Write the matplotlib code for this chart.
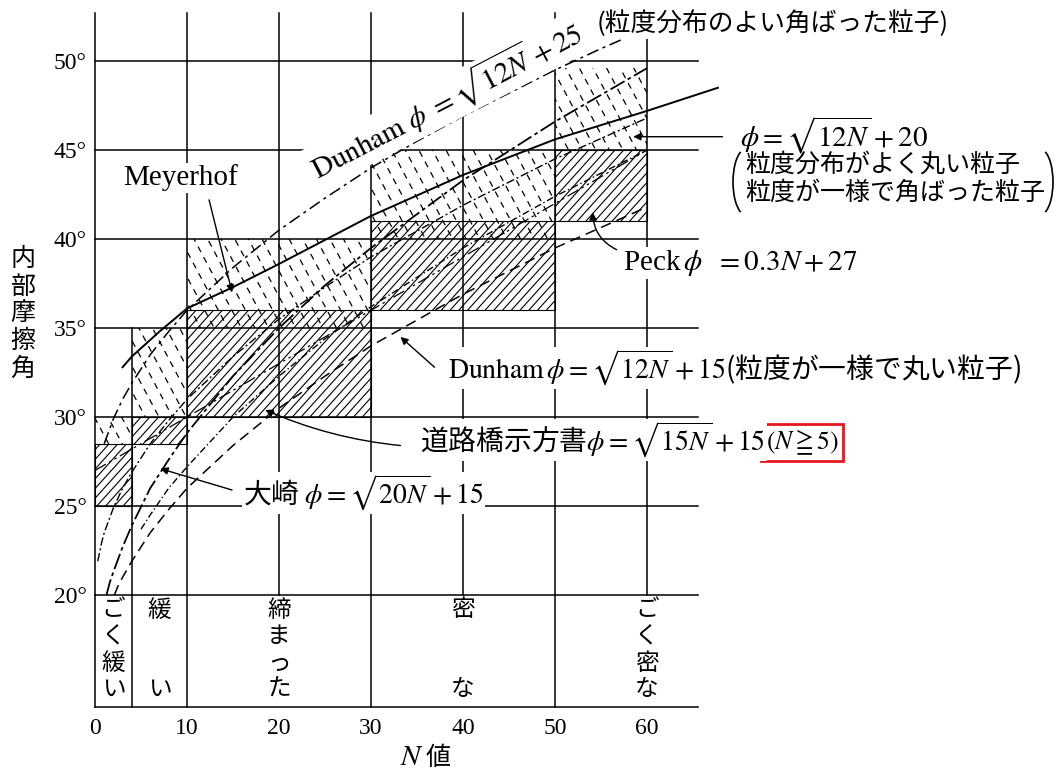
import numpy as np
import matplotlib
matplotlib.use('Agg')
import matplotlib.pyplot as plt
from matplotlib.patches import Rectangle, Arc
from matplotlib.collections import LineCollection
from matplotlib.transforms import Affine2D

plt.rcParams['mathtext.fontset'] = 'stix'
plt.rcParams['font.family'] = ['Liberation Serif', 'Noto Sans CJK JP', 'DejaVu Sans']
JP = 'Noto Sans CJK JP'
SERIF = 'Liberation Serif'

# --- data ---
n_ticks = [0, 10, 20, 30, 40, 50, 60]
phi_ticks = [20, 25, 30, 35, 40, 45, 50]
phi_tick_labels = ['20°', '25°', '30°', '35°', '40°', '45°', '50°']

# density classes (N ranges) and the phi ranges of Peck / Meyerhof
class_n = [(0, 4), (4, 10), (10, 30), (30, 50), (50, 60)]
peck_phi = [(25, 28.5), (28.5, 30), (30, 36), (36, 41), (41, 45)]
meyer_phi = [(28.5, 30), (30, 35), (35, 40), (40, 45), (45, 49.6)]

density_labels = ['ごく緩い', '緩い', '締まった', '密な', 'ごく密な']
density_n = [2, 7, 20, 40, 60]
density_bounds = [0, 4, 10, 30, 50]

# curves
dunham25_n = [1, 1.5, 2, 3, 4, 6, 8, 10, 15, 20, 25, 30, 35, 40, 45, 50, 55, 59]
dunham25_phi = [28.5, 29.2, 29.9, 31.0, 31.9, 33.5, 34.8, 36.0, 38.4, 40.5, 42.3, 44.0, 45.5, 46.9, 48.2, 49.5, 50.7, 51.6]

meyer_n = [3, 4, 5.5, 7, 10, 15, 20, 30, 40, 50, 60, 67.7]
meyer_line = [32.8, 33.4, 34.1, 34.8, 36.1, 37.3, 38.6, 41.3, 43.6, 45.6, 47.2, 48.5]

dunham20_n = [0.3, 0.7, 1, 1.5, 2, 3, 4, 6, 8, 10, 15, 20, 25, 30, 40, 50, 60]
dunham20_phi = [21.9, 22.9, 23.5, 24.2, 24.9, 26.0, 26.9, 28.5, 29.8, 31.0, 33.4, 35.5, 37.3, 39.0, 41.9, 44.5, 46.8]

peck_n = [0, 60]
peck_line = [27, 45]

dunham15_n = [2.1, 2.5, 3, 4, 6, 8, 10, 15, 20, 25, 30, 40, 50, 60]
dunham15_phi = [20.0, 20.5, 21.0, 21.9, 23.5, 24.8, 26.0, 28.4, 30.5, 32.3, 34.0, 36.9, 39.5, 41.8]

road_n = [5, 6, 8, 10, 15, 20, 25, 30, 40, 50, 60]
road_phi = [23.7, 24.5, 26.0, 27.2, 30.0, 32.3, 34.4, 36.2, 39.5, 42.4, 45.0]

osaki_n = [1.25, 1.6, 2, 3, 4, 6, 8, 10, 15, 20, 25, 30, 40, 50, 60]
osaki_phi = [20.0, 20.7, 21.3, 22.7, 23.9, 26.0, 27.6, 29.1, 32.3, 35.0, 37.4, 39.5, 43.3, 46.6, 49.6]

# --- figure ---
W, H = 1058, 773
fig = plt.figure(figsize=(W / 100, H / 100), dpi=100)
ax = fig.add_axes([95 / W, 1 - 707 / H, 603 / W, 694 / H])
XMAX, YMIN, YMAX = 65.54, 13.71, 52.70
ax.set_xlim(0, XMAX)
ax.set_ylim(YMIN, YMAX)
for s in ax.spines.values():
    s.set_visible(False)
SX = 603 / XMAX
SY = 694 / (YMAX - YMIN)

# pixel transform (origin top-left, like the reference picture)
T = Affine2D().scale(1, -1).translate(0, H)

ax.set_xticks(n_ticks)
ax.set_xticklabels([str(v) for v in n_ticks], fontfamily=SERIF, fontsize=17)
ax.set_yticks(phi_ticks)
ax.set_yticklabels(phi_tick_labels, fontfamily=SERIF, fontsize=17)
ax.tick_params(axis='x', length=0, pad=8)
ax.tick_params(axis='y', length=0, pad=6)

LW = 1.1
# grid
for p in phi_ticks:
    ax.plot([0, XMAX], [p, p], color='k', lw=LW, clip_on=False, zorder=2)
ax.plot([0, XMAX], [YMIN, YMIN], color='k', lw=LW, clip_on=False, zorder=2)
for n in n_ticks:
    ax.plot([n, n], [20, YMAX], color='k', lw=LW, clip_on=False, zorder=2)
for n in density_bounds:
    ax.plot([n, n], [YMIN, 20], color='k', lw=LW, clip_on=False, zorder=2)
ax.plot([4, 4], [20, 35], color='k', lw=LW, zorder=2)


def hatch(x0, x1, y0, y1, ang, step, ls, lw):
    rect = Rectangle((x0, y0), x1 - x0, y1 - y0, fill=False, lw=0)
    ax.add_patch(rect)
    d = np.array([np.cos(np.radians(ang)), np.sin(np.radians(ang))])
    nr = np.array([-d[1], d[0]])
    c = np.array([[x0 * SX, y0 * SY], [x1 * SX, y0 * SY], [x1 * SX, y1 * SY], [x0 * SX, y1 * SY]])
    pr, al = c @ nr, c @ d
    segs = []
    for o in np.arange(pr.min(), pr.max() + step, step):
        a = o * nr + al.min() * d
        b = o * nr + al.max() * d
        segs.append([(a[0] / SX, a[1] / SY), (b[0] / SX, b[1] / SY)])
    lc = LineCollection(segs, colors='k', linewidths=lw, linestyles=ls, zorder=1)
    ax.add_collection(lc, autolim=False)
    lc.set_clip_path(rect)


for (a, b), (p0, p1) in zip(class_n, peck_phi):
    hatch(a, b, p0, p1, 48, 6.5, 'solid', 0.8)
    ax.add_patch(Rectangle((a, p0), b - a, p1 - p0, fill=False, ec='k', lw=0.8, zorder=2))
for (a, b), (p0, p1) in zip(class_n, meyer_phi):
    hatch(a, b, p0, p1, -62, 12, (0, (5, 4.5)), 0.9)

# curves
ax.plot(dunham25_n, dunham25_phi, color='k', lw=1.1, ls=(0, (8, 3, 2, 3)), zorder=3)
ax.plot(meyer_n, meyer_line, color='k', lw=1.4, clip_on=False, zorder=3)
ax.plot(dunham20_n, dunham20_phi, color='k', lw=1.0, ls=(0, (6, 2, 1.5, 2)), zorder=3)
ax.plot(peck_n, peck_line, color='k', lw=0.9, ls=(0, (10, 3, 2, 3, 2, 3)), zorder=3)
ax.plot(dunham15_n, dunham15_phi, color='k', lw=1.1, ls=(0, (7, 4)), zorder=3)
ax.plot(road_n, road_phi, color='k', lw=1.0, ls=(0, (5, 2, 1, 2)), zorder=3)
ax.plot(osaki_n, osaki_phi, color='k', lw=1.3, ls=(0, (9, 2, 2, 2)), zorder=3)

# leaders
arr = dict(arrowstyle='-|>', color='k', lw=1.0, mutation_scale=11, shrinkA=0, shrinkB=0)
ax.annotate('', xy=(14.9, 37.0), xytext=(12.4, 42.2), arrowprops=arr, annotation_clip=False)
ax.annotate('', xy=(58.5, 45.75), xytext=(68.2, 45.75), arrowprops=arr, annotation_clip=False)
ax.annotate('', xy=(54.1, 41.5), xytext=(56.7, 39.4),
            arrowprops=dict(arr, connectionstyle='arc3,rad=-0.3'), annotation_clip=False)
ax.annotate('', xy=(33.2, 34.5), xytext=(36.9, 32.8), arrowprops=arr)
ax.annotate('', xy=(18.5, 30.4), xytext=(33.2, 28.4),
            arrowprops=dict(arr, connectionstyle='arc3,rad=-0.08'))
ax.annotate('', xy=(7.1, 27.1), xytext=(14.9, 25.9), arrowprops=arr)

# texts
wb = dict(fc='white', ec='none', pad=1)
fig.text(318, 180, r'$\mathrm{Dunham}\ \phi\ =\sqrt{12N}+25$', transform=T, fontsize=21,
         rotation=27.5, rotation_mode='anchor', ha='left', va='baseline', bbox=wb, zorder=6)
fig.text(597, 24, '(粒度分布のよい角ばった粒子)', transform=T, fontsize=18.5, family=JP,
         ha='left', va='center', bbox=wb)
fig.text(181, 178, 'Meyerhof', transform=T, fontsize=21, family=SERIF, ha='center', va='center',
         bbox=wb)
fig.text(740, 135, r'$\phi=\sqrt{12N}+20$', transform=T, fontsize=21, ha='left', va='center')
fig.text(745, 165, '粒度分布がよく丸い粒子', transform=T, fontsize=18, family=JP,
         ha='left', va='center')
fig.text(745, 193, '粒度が一様で角ばった粒子', transform=T, fontsize=18, family=JP,
         ha='left', va='center')
fig.add_artist(Arc((746, 182), 26, 66, theta1=100, theta2=260, transform=T, lw=1.2, color='k'))
fig.add_artist(Arc((1040, 182), 26, 66, theta1=-80, theta2=80, transform=T, lw=1.2, color='k'))
fig.text(623, 263, r'Peck$\,\phi\ \ =0.3N+27$', transform=T, fontsize=21, family=SERIF,
         ha='left', va='center', bbox=wb)
fig.text(448, 368, r'$\mathrm{Dunham}\,\phi=\sqrt{12N}+15$(粒度が一様で丸い粒子)', transform=T,
         fontsize=20, family=JP, ha='left', va='center', bbox=wb)
fig.text(420, 440, r'道路橋示方書$\phi=\sqrt{15N}+15$', transform=T, fontsize=20, family=JP,
         ha='left', va='center', bbox=wb)
fig.text(803, 442, r'$(N\geqq5)$', transform=T, fontsize=18.5, ha='center', va='center')
fig.add_artist(Rectangle((761, 461), 82, -37, transform=T, fill=False, ec='#e5161d', lw=2))
fig.text(243, 493, r'大崎 $\phi=\sqrt{20N}+15$', transform=T, fontsize=20, family=JP,
         ha='left', va='center', bbox=wb)

# y label
for i, ch in enumerate('内部摩擦角'):
    fig.text(23, 259 + 27.5 * i, ch, transform=T, fontsize=18, family=JP, ha='center', va='center')
# x label
fig.text(412, 758, r'$N$', transform=T, fontsize=21, ha='center', va='center')
fig.text(438, 758, '値', transform=T, fontsize=18, family=JP, ha='center', va='center')

# density class labels (vertical)
for lab, n in zip(density_labels, density_n):
    rows = [0, 3] if len(lab) == 2 else range(len(lab))
    for ch, r in zip(lab, rows):
        ax.text(n, 1 - (610 + 26.5 * r - 13) / 694, ch, transform=ax.get_xaxis_transform(),
                fontsize=17, family=JP, ha='center', va='center')

fig.savefig('out.png', dpi=100)
